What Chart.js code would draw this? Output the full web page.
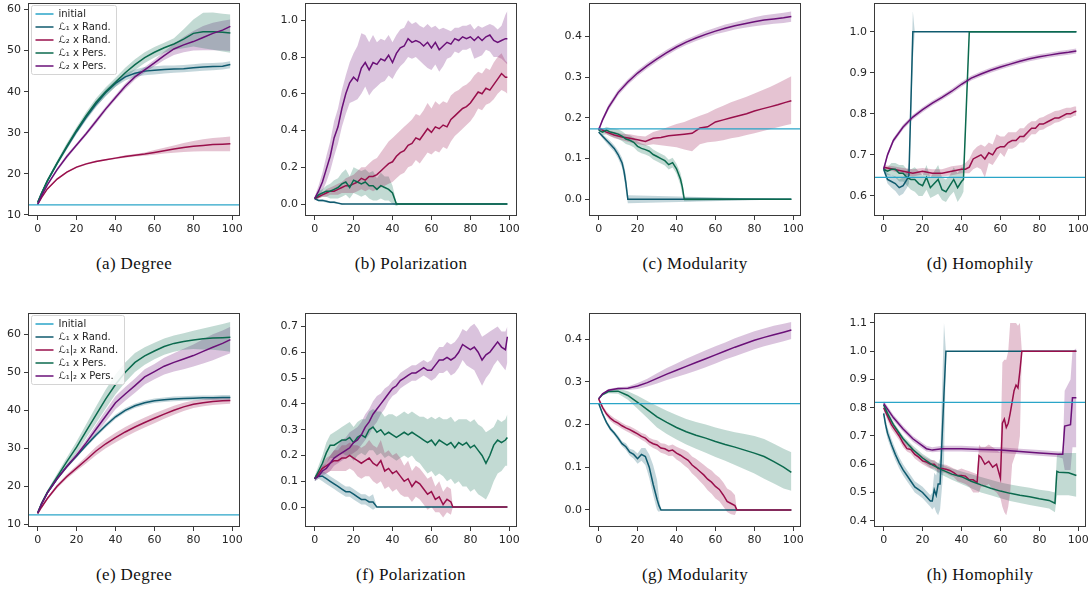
<!DOCTYPE html>
<html>
<head>
<meta charset="utf-8">
<script src="https://cdn.jsdelivr.net/npm/chart.js"></script>
<style>
  body { margin: 0; background: #fff; width: 1091px; height: 592px; position: relative; overflow: hidden; }
  canvas { position: absolute; }
  .cap { position: absolute; width: 240px; text-align: center; font-family: "Liberation Serif", serif; font-size: 17px; letter-spacing: 0.4px; line-height: 18px; color: #111; }
</style>
</head>
<body>
<script>
// ---- shared axis values ----
const xMin = -4.95, xMax = 103.95;
const xTicks = [0, 20, 40, 60, 80, 100];
const names1 = ["initial", "ℒ₁ x Rand.", "ℒ₂ x Rand.", "ℒ₁ x Pers.", "ℒ₂ x Pers."];
const names2 = ["Initial", "ℒ₁ x Rand.", "ℒ₁|₂ x Rand.", "ℒ₁ x Pers.", "ℒ₁|₂ x Pers."];
const colors = ["#2aa5c8", "#0f5a6e", "#990f4b", "#0b6a4e", "#6a1078"];

const xSmooth = [0, 2, 5, 10, 15, 20, 25, 30, 35, 40, 45, 50, 55, 60, 65, 70, 75, 80, 85, 90, 95, 99];
const xStep2 = [0, 2, 4, 6, 8, 10, 12, 14, 16, 18, 20, 22, 24, 26, 28, 30, 32, 34, 36, 38, 40, 42, 44, 46, 48, 50, 52, 54, 56, 58, 60, 62, 64, 66, 68, 70, 72, 74, 76, 78, 80, 82, 84, 86, 88, 90, 92, 94, 96, 98, 99];

// ---- (a) Degree ----
const aInitial = 12.4;
const aL1Rand = [13, 15.2, 18.2, 22.5, 26.5, 30.3, 33.8, 37, 39.8, 42, 43.6, 44.5, 45, 45.2, 45.4, 45.5, 45.6, 45.8, 46, 46.1, 46.2, 46.6];
const aL1RandLo = [12.8, 14.9, 17.8, 22, 26, 29.7, 33.1, 36.2, 39, 41.2, 42.7, 43.6, 44, 44.2, 44.4, 44.6, 44.7, 44.9, 45.1, 45.2, 45.4, 45.7];
const aL1RandHi = [13.2, 15.5, 18.6, 23, 27, 30.9, 34.5, 37.8, 40.6, 42.8, 44.5, 45.4, 46, 46.2, 46.4, 46.4, 46.5, 46.7, 46.9, 47, 47.1, 47.4];
const aL2Rand = [12.5, 14.2, 16.3, 18.7, 20.4, 21.6, 22.4, 23, 23.4, 23.8, 24.2, 24.5, 24.8, 25.2, 25.6, 26, 26.4, 26.7, 26.9, 27.1, 27.2, 27.3];
const aL2RandLo = [12.3, 14, 16.1, 18.5, 20.2, 21.4, 22.2, 22.8, 23.2, 23.6, 23.9, 24.2, 24.4, 24.6, 24.9, 25.1, 25.3, 25.4, 25.5, 25.5, 25.5, 25.5];
const aL2RandHi = [12.7, 14.4, 16.5, 18.9, 20.6, 21.8, 22.6, 23.2, 23.6, 24, 24.5, 24.8, 25.2, 25.8, 26.3, 26.9, 27.5, 28, 28.4, 28.7, 28.9, 29.1];
const aL1Pers = [13, 15.2, 18.3, 22.6, 26.7, 30.6, 34.2, 37.4, 40, 42.3, 44.6, 46.6, 48.3, 49.6, 50.7, 51.6, 52.8, 54.2, 54.6, 54.6, 54.5, 54.3];
const aL1PersLo = [12.8, 14.9, 17.8, 22, 25.9, 29.8, 33.3, 36.4, 38.9, 41.2, 43.4, 45.3, 47, 48.3, 49.5, 50.2, 50.6, 51, 50.6, 50.2, 49.8, 49.5];
const aL1PersHi = [13.2, 15.5, 18.8, 23.2, 27.5, 31.4, 35.1, 38.4, 41.1, 43.4, 45.8, 47.9, 49.6, 50.9, 51.9, 53, 55.2, 57.6, 59.2, 59.3, 59, 58.8];
const aL2Pers = [12.5, 14.6, 17.3, 21, 24.2, 27, 29.8, 32.8, 35.8, 38.6, 41.3, 43.6, 45.3, 47, 48.8, 50.4, 51.4, 52.2, 53.2, 54.2, 55, 55.9];
const aL2PersLo = [12.3, 14.3, 17, 20.6, 23.7, 26.6, 29.3, 32.2, 35.2, 38, 40.6, 42.9, 44.6, 46.2, 47.7, 48.9, 49.6, 50, 50.1, 50.1, 50, 49.9];
const aL2PersHi = [12.7, 14.9, 17.6, 21.4, 24.7, 27.4, 30.3, 33.4, 36.4, 39.2, 42, 44.3, 46, 47.8, 49.8, 51.6, 53.3, 54.8, 56, 56.8, 57.3, 57.6];

// ---- (b) Polarization ----
const bL1RandX = [0, 2, 4, 6, 8, 10, 12, 14, 16, 99];
const bL1Rand = [0.03, 0.02, 0.02, 0.015, 0.01, 0.01, 0.005, 0, 0, 0];
const bL1RandLo = [0.025, 0.015, 0.013, 0.009, 0.005, 0.004, 0, -0.003, 0, 0];
const bL1RandHi = [0.035, 0.025, 0.027, 0.021, 0.015, 0.016, 0.01, 0.003, 0, 0];
const bL2Rand = [0.03, 0.04, 0.05, 0.06, 0.07, 0.07, 0.08, 0.09, 0.10, 0.10, 0.11, 0.12, 0.14, 0.13, 0.15, 0.15, 0.16, 0.18, 0.20, 0.22, 0.23, 0.26, 0.28, 0.29, 0.32, 0.33, 0.36, 0.35, 0.38, 0.41, 0.39, 0.42, 0.41, 0.43, 0.42, 0.46, 0.48, 0.50, 0.52, 0.53, 0.55, 0.58, 0.61, 0.60, 0.63, 0.62, 0.65, 0.68, 0.71, 0.69, 0.69];
const bL2RandLo = [0.02, 0.03, 0.04, 0.04, 0.05, 0.05, 0.05, 0.06, 0.06, 0.06, 0.06, 0.07, 0.08, 0.07, 0.08, 0.07, 0.08, 0.09, 0.10, 0.11, 0.12, 0.14, 0.16, 0.17, 0.20, 0.21, 0.24, 0.22, 0.25, 0.28, 0.27, 0.29, 0.28, 0.31, 0.30, 0.34, 0.37, 0.39, 0.41, 0.43, 0.45, 0.48, 0.52, 0.51, 0.54, 0.55, 0.57, 0.60, 0.62, 0.61, 0.60];
const bL2RandHi = [0.04, 0.05, 0.06, 0.08, 0.09, 0.10, 0.11, 0.12, 0.14, 0.15, 0.16, 0.18, 0.20, 0.20, 0.22, 0.24, 0.25, 0.28, 0.31, 0.34, 0.36, 0.38, 0.40, 0.42, 0.44, 0.46, 0.49, 0.48, 0.51, 0.55, 0.52, 0.56, 0.54, 0.56, 0.55, 0.59, 0.61, 0.62, 0.64, 0.65, 0.67, 0.70, 0.72, 0.71, 0.74, 0.73, 0.77, 0.80, 0.82, 0.78, 0.77];
const bL1PersX = [0, 2, 4, 6, 8, 10, 12, 14, 16, 18, 20, 22, 24, 26, 28, 30, 32, 34, 36, 38, 40, 42, 44, 99];
const bL1Pers = [0.03, 0.05, 0.06, 0.07, 0.07, 0.08, 0.09, 0.11, 0.12, 0.09, 0.13, 0.12, 0.11, 0.12, 0.10, 0.10, 0.08, 0.10, 0.09, 0.08, 0.06, 0, 0, 0];
const bL1PersLo = [0.02, 0.03, 0.04, 0.04, 0.03, 0.03, 0.03, 0.04, 0.05, 0.03, 0.06, 0.05, 0.04, 0.05, 0.03, 0.02, 0.02, 0.03, 0.02, 0.02, 0, -0.01, 0, 0];
const bL1PersHi = [0.04, 0.07, 0.08, 0.10, 0.11, 0.13, 0.14, 0.17, 0.19, 0.15, 0.20, 0.19, 0.18, 0.19, 0.17, 0.18, 0.14, 0.17, 0.15, 0.15, 0.10, 0.01, 0, 0];
const bL2Pers = [0.03, 0.07, 0.12, 0.19, 0.26, 0.36, 0.42, 0.52, 0.60, 0.66, 0.69, 0.67, 0.74, 0.77, 0.73, 0.77, 0.76, 0.79, 0.78, 0.81, 0.77, 0.82, 0.85, 0.86, 0.90, 0.88, 0.89, 0.88, 0.86, 0.88, 0.85, 0.88, 0.84, 0.86, 0.88, 0.87, 0.90, 0.89, 0.91, 0.90, 0.91, 0.89, 0.91, 0.89, 0.91, 0.92, 0.89, 0.88, 0.89, 0.90, 0.90];
const bL2PersLo = [0.02, 0.04, 0.07, 0.12, 0.18, 0.26, 0.33, 0.42, 0.49, 0.55, 0.56, 0.57, 0.60, 0.64, 0.59, 0.62, 0.64, 0.66, 0.67, 0.70, 0.68, 0.72, 0.75, 0.77, 0.80, 0.79, 0.80, 0.78, 0.76, 0.74, 0.73, 0.76, 0.72, 0.75, 0.79, 0.80, 0.83, 0.82, 0.84, 0.84, 0.85, 0.79, 0.80, 0.81, 0.84, 0.83, 0.80, 0.80, 0.79, 0.77, 0.76];
const bL2PersHi = [0.04, 0.10, 0.17, 0.26, 0.34, 0.45, 0.52, 0.62, 0.70, 0.77, 0.82, 0.86, 0.93, 0.92, 0.88, 0.92, 0.88, 0.90, 0.89, 0.92, 0.88, 0.92, 0.95, 0.96, 1.00, 0.98, 0.99, 0.97, 0.96, 0.98, 0.96, 0.97, 0.95, 0.96, 0.95, 0.94, 0.96, 0.96, 0.97, 0.97, 0.98, 0.95, 0.97, 0.96, 0.97, 0.98, 0.97, 0.95, 0.97, 1.03, 1.05];

// ---- (c) Modularity ----
const cInitial = 0.173;
const cL1RandX = [0, 2, 4, 6, 8, 10, 12, 13, 14, 15, 99];
const cL1Rand = [0.165, 0.155, 0.145, 0.135, 0.125, 0.11, 0.09, 0.07, 0.04, 0, 0];
const cL1RandLo = [0.163, 0.15, 0.138, 0.127, 0.117, 0.1, 0.078, 0.055, 0.02, -0.01, 0];
const cL1RandHi = [0.167, 0.16, 0.152, 0.143, 0.133, 0.12, 0.102, 0.085, 0.06, 0.01, 0];
const cL2RandX = [0, 4, 8, 12, 16, 20, 24, 28, 32, 36, 40, 44, 48, 52, 56, 60, 64, 68, 72, 76, 80, 84, 88, 92, 96, 99];
const cL2Rand = [0.175, 0.165, 0.158, 0.153, 0.15, 0.146, 0.142, 0.15, 0.152, 0.156, 0.158, 0.16, 0.162, 0.175, 0.178, 0.19, 0.195, 0.2, 0.205, 0.21, 0.217, 0.222, 0.227, 0.232, 0.238, 0.242];
const cL2RandLo = [0.172, 0.16, 0.15, 0.145, 0.14, 0.136, 0.132, 0.135, 0.133, 0.13, 0.128, 0.122, 0.118, 0.135, 0.14, 0.142, 0.145, 0.15, 0.153, 0.158, 0.162, 0.167, 0.172, 0.177, 0.182, 0.185];
const cL2RandHi = [0.178, 0.17, 0.166, 0.161, 0.16, 0.156, 0.154, 0.165, 0.171, 0.178, 0.185, 0.19, 0.198, 0.205, 0.212, 0.222, 0.23, 0.238, 0.245, 0.252, 0.26, 0.268, 0.276, 0.285, 0.295, 0.302];
const cL1PersX = [0, 2, 4, 6, 8, 10, 12, 14, 16, 18, 20, 22, 24, 26, 28, 30, 32, 34, 36, 38, 40, 42, 43, 44, 99];
const cL1Pers = [0.17, 0.165, 0.17, 0.165, 0.163, 0.16, 0.155, 0.148, 0.145, 0.14, 0.13, 0.125, 0.122, 0.118, 0.11, 0.105, 0.1, 0.095, 0.085, 0.09, 0.075, 0.05, 0.03, 0, 0];
const cL1PersLo = [0.168, 0.158, 0.16, 0.155, 0.152, 0.148, 0.143, 0.136, 0.133, 0.128, 0.118, 0.113, 0.11, 0.106, 0.098, 0.093, 0.088, 0.083, 0.073, 0.078, 0.063, 0.035, 0.01, -0.005, 0];
const cL1PersHi = [0.172, 0.172, 0.178, 0.175, 0.174, 0.172, 0.167, 0.16, 0.157, 0.152, 0.142, 0.137, 0.134, 0.13, 0.122, 0.117, 0.112, 0.107, 0.097, 0.102, 0.087, 0.065, 0.045, 0.005, 0];
const cL2Pers = [0.17, 0.195, 0.225, 0.262, 0.288, 0.31, 0.328, 0.345, 0.36, 0.374, 0.386, 0.396, 0.405, 0.413, 0.42, 0.426, 0.431, 0.436, 0.44, 0.443, 0.446, 0.449];
const cL2PersLo = [0.168, 0.19, 0.218, 0.255, 0.281, 0.303, 0.321, 0.338, 0.353, 0.367, 0.379, 0.389, 0.397, 0.405, 0.411, 0.417, 0.421, 0.425, 0.428, 0.431, 0.433, 0.436];
const cL2PersHi = [0.172, 0.2, 0.232, 0.269, 0.295, 0.317, 0.335, 0.352, 0.367, 0.381, 0.393, 0.403, 0.413, 0.421, 0.429, 0.435, 0.441, 0.447, 0.452, 0.455, 0.458, 0.461];

// ---- (d) Homophily ----
const dInitial = 0.645;
const dL1RandX = [0, 2, 4, 6, 8, 10, 12, 13, 15, 16, 99];
const dL1Rand = [0.665, 0.64, 0.635, 0.63, 0.62, 0.625, 0.64, 0.65, 1, 1, 1];
const dL1RandLo = [0.658, 0.63, 0.62, 0.612, 0.6, 0.605, 0.62, 0.63, 0.93, 1, 1];
const dL1RandHi = [0.672, 0.655, 0.65, 0.648, 0.64, 0.645, 0.66, 0.68, 1.05, 1, 1];
const dL2RandX = [0, 5, 10, 15, 20, 25, 30, 35, 40, 42, 44, 46, 48, 50, 52, 54, 56, 58, 60, 62, 64, 66, 68, 70, 72, 74, 76, 78, 80, 82, 84, 86, 88, 90, 92, 94, 96, 98, 99];
const dL2Rand = [0.67, 0.665, 0.66, 0.655, 0.66, 0.655, 0.655, 0.66, 0.665, 0.665, 0.67, 0.69, 0.695, 0.70, 0.69, 0.705, 0.70, 0.715, 0.72, 0.72, 0.73, 0.735, 0.735, 0.745, 0.745, 0.755, 0.765, 0.765, 0.775, 0.775, 0.78, 0.785, 0.79, 0.79, 0.795, 0.80, 0.80, 0.805, 0.806];
const dL2RandLo = [0.665, 0.66, 0.652, 0.647, 0.652, 0.647, 0.647, 0.65, 0.655, 0.655, 0.655, 0.665, 0.67, 0.665, 0.645, 0.68, 0.675, 0.69, 0.705, 0.695, 0.715, 0.715, 0.72, 0.73, 0.73, 0.74, 0.75, 0.75, 0.76, 0.762, 0.768, 0.772, 0.778, 0.78, 0.785, 0.79, 0.79, 0.795, 0.795];
const dL2RandHi = [0.675, 0.672, 0.668, 0.665, 0.668, 0.665, 0.665, 0.672, 0.675, 0.68, 0.69, 0.71, 0.72, 0.725, 0.72, 0.73, 0.725, 0.75, 0.745, 0.745, 0.755, 0.755, 0.755, 0.765, 0.765, 0.775, 0.782, 0.782, 0.79, 0.792, 0.798, 0.802, 0.807, 0.808, 0.812, 0.815, 0.815, 0.818, 0.818];
const dL1PersX = [0, 2, 4, 6, 8, 10, 12, 14, 16, 18, 20, 22, 24, 26, 28, 30, 32, 34, 36, 38, 40, 41, 44, 99];
const dL1Pers = [0.665, 0.66, 0.665, 0.665, 0.655, 0.655, 0.645, 0.64, 0.64, 0.63, 0.625, 0.645, 0.62, 0.63, 0.64, 0.615, 0.61, 0.625, 0.64, 0.62, 0.635, 0.64, 1, 1];
const dL1PersLo = [0.66, 0.65, 0.65, 0.645, 0.635, 0.635, 0.625, 0.615, 0.61, 0.6, 0.6, 0.615, 0.595, 0.6, 0.605, 0.59, 0.585, 0.6, 0.61, 0.585, 0.6, 0.61, 1, 1];
const dL1PersHi = [0.67, 0.67, 0.68, 0.68, 0.675, 0.675, 0.665, 0.665, 0.67, 0.66, 0.65, 0.675, 0.645, 0.66, 0.675, 0.645, 0.64, 0.65, 0.67, 0.655, 0.67, 0.67, 1, 1];
const dL2Pers = [0.665, 0.70, 0.735, 0.768, 0.792, 0.81, 0.826, 0.84, 0.855, 0.872, 0.887, 0.897, 0.906, 0.914, 0.921, 0.928, 0.934, 0.939, 0.943, 0.947, 0.95, 0.953];
const dL2PersLo = [0.66, 0.694, 0.729, 0.762, 0.786, 0.804, 0.82, 0.834, 0.849, 0.866, 0.881, 0.891, 0.9, 0.908, 0.915, 0.922, 0.928, 0.933, 0.937, 0.941, 0.944, 0.947];
const dL2PersHi = [0.67, 0.706, 0.741, 0.774, 0.798, 0.816, 0.832, 0.846, 0.861, 0.878, 0.893, 0.903, 0.912, 0.92, 0.927, 0.934, 0.94, 0.945, 0.949, 0.953, 0.956, 0.959];

// ---- (e) Degree ----
const eInitial = 12.5;
const eL1Rand = [13, 15.3, 18.3, 22, 25.2, 28, 30.8, 33.5, 36, 38.3, 40, 41.2, 42, 42.5, 42.8, 43, 43.1, 43.2, 43.3, 43.3, 43.4, 43.4];
const eL1RandLo = [12.8, 14.9, 17.9, 21.6, 24.8, 27.6, 30.3, 33, 35.4, 37.7, 39.4, 40.6, 41.4, 41.9, 42.2, 42.4, 42.5, 42.6, 42.7, 42.7, 42.8, 42.8];
const eL1RandHi = [13.2, 15.7, 18.7, 22.4, 25.6, 28.4, 31.3, 34, 36.6, 38.9, 40.6, 41.8, 42.6, 43.1, 43.4, 43.6, 43.7, 43.8, 43.9, 43.9, 44, 44];
const eL2Rand = [12.8, 14.5, 16.8, 20, 22.6, 24.8, 27, 29.3, 31.2, 32.8, 34.3, 35.6, 36.8, 37.9, 39, 40, 40.9, 41.6, 42, 42.3, 42.5, 42.6];
const eL2RandLo = [12.6, 14.2, 16.4, 19.5, 22, 24.1, 26.1, 28.2, 30, 31.5, 33, 34.3, 35.5, 36.6, 37.8, 38.8, 39.8, 40.6, 41.1, 41.4, 41.6, 41.7];
const eL2RandHi = [13, 14.8, 17.2, 20.5, 23.2, 25.5, 27.9, 30.4, 32.4, 34.1, 35.6, 36.9, 38.1, 39.2, 40.2, 41.2, 42, 42.6, 42.9, 43.2, 43.4, 43.5];
const eL1Pers = [13, 15.5, 18.5, 22.5, 26.5, 30.3, 34.6, 38.8, 43, 46.8, 50, 52.6, 54.3, 55.6, 56.8, 57.6, 58.1, 58.5, 58.8, 59, 59.1, 59.2];
const eL1PersLo = [12.8, 15.2, 18, 21.7, 25.4, 28.8, 32.8, 36.6, 40.5, 44.2, 47.4, 50.1, 52, 53.4, 54.6, 55.4, 55.9, 56.1, 56, 55.9, 55.7, 55.4];
const eL1PersHi = [13.2, 15.8, 19, 23.3, 27.6, 31.8, 36.4, 41, 45.5, 49.4, 52.6, 55.1, 56.6, 57.8, 58.9, 59.7, 60.3, 60.9, 61.5, 62.1, 62.7, 63.2];
const eL2Pers = [13, 15.3, 18.3, 22, 25.2, 28.2, 31.5, 35, 38.5, 42, 44.3, 46.5, 48.8, 50.2, 51.6, 52.6, 53.5, 54.4, 55.5, 56.6, 57.6, 58.6];
const eL2PersLo = [12.8, 15, 18, 21.6, 24.7, 27.5, 30.6, 33.8, 37, 40.3, 42.5, 44.6, 46.8, 48.2, 49.4, 50.2, 50.8, 51.5, 52.3, 53.2, 54.2, 55];
const eL2PersHi = [13.2, 15.6, 18.6, 22.4, 25.7, 28.9, 32.4, 36.2, 40, 43.7, 46.1, 48.4, 50.8, 52.2, 53.8, 55, 56.2, 57.3, 58.7, 60, 61, 62];

// ---- (f) Polarization ----
const fL1RandX = [0, 2, 4, 6, 8, 10, 12, 14, 16, 18, 20, 22, 24, 26, 28, 30, 32, 99];
const fL1Rand = [0.11, 0.12, 0.12, 0.11, 0.10, 0.09, 0.08, 0.07, 0.06, 0.06, 0.05, 0.04, 0.03, 0.03, 0.02, 0.02, 0, 0];
const fL1RandLo = [0.10, 0.11, 0.10, 0.09, 0.08, 0.07, 0.06, 0.05, 0.04, 0.04, 0.03, 0.02, 0.01, 0.01, 0, -0.01, 0, 0];
const fL1RandHi = [0.12, 0.13, 0.14, 0.13, 0.12, 0.11, 0.10, 0.09, 0.08, 0.08, 0.07, 0.06, 0.05, 0.05, 0.04, 0.05, 0, 0];
const fL2RandX = [0, 2, 4, 6, 8, 10, 12, 14, 16, 18, 20, 22, 24, 26, 28, 30, 32, 34, 36, 38, 40, 42, 44, 46, 48, 50, 52, 54, 56, 58, 60, 62, 64, 66, 68, 70, 71, 72, 99];
const fL2Rand = [0.11, 0.13, 0.15, 0.16, 0.17, 0.18, 0.18, 0.19, 0.19, 0.20, 0.19, 0.18, 0.17, 0.18, 0.19, 0.17, 0.16, 0.18, 0.14, 0.15, 0.13, 0.14, 0.12, 0.10, 0.11, 0.08, 0.10, 0.09, 0.07, 0.05, 0.06, 0.03, 0.04, 0.01, 0.03, 0.02, 0, 0, 0];
const fL2RandLo = [0.10, 0.12, 0.13, 0.13, 0.14, 0.14, 0.14, 0.14, 0.14, 0.15, 0.14, 0.12, 0.11, 0.12, 0.12, 0.10, 0.09, 0.10, 0.07, 0.08, 0.06, 0.07, 0.05, 0.04, 0.04, 0.02, 0.04, 0.03, 0.01, -0.01, 0, -0.02, -0.02, -0.04, -0.02, -0.03, 0, 0, 0];
const fL2RandHi = [0.12, 0.14, 0.17, 0.19, 0.20, 0.22, 0.22, 0.24, 0.24, 0.25, 0.24, 0.24, 0.23, 0.24, 0.26, 0.24, 0.23, 0.26, 0.21, 0.22, 0.20, 0.21, 0.19, 0.16, 0.18, 0.14, 0.16, 0.15, 0.13, 0.11, 0.12, 0.08, 0.10, 0.06, 0.08, 0.07, 0, 0, 0];
const fL1Pers = [0.11, 0.14, 0.17, 0.21, 0.24, 0.24, 0.25, 0.26, 0.26, 0.27, 0.25, 0.27, 0.28, 0.27, 0.30, 0.31, 0.29, 0.30, 0.28, 0.29, 0.28, 0.27, 0.28, 0.29, 0.28, 0.29, 0.28, 0.27, 0.26, 0.25, 0.26, 0.24, 0.26, 0.25, 0.24, 0.25, 0.23, 0.25, 0.24, 0.25, 0.23, 0.24, 0.22, 0.20, 0.17, 0.20, 0.24, 0.26, 0.25, 0.26, 0.27];
const fL1PersLo = [0.10, 0.12, 0.14, 0.17, 0.19, 0.19, 0.20, 0.21, 0.20, 0.20, 0.18, 0.20, 0.21, 0.20, 0.22, 0.22, 0.20, 0.21, 0.19, 0.20, 0.19, 0.18, 0.19, 0.20, 0.19, 0.20, 0.18, 0.17, 0.15, 0.13, 0.14, 0.12, 0.13, 0.12, 0.10, 0.11, 0.09, 0.10, 0.08, 0.08, 0.06, 0.07, 0.05, 0.04, 0.03, 0.06, 0.10, 0.13, 0.14, 0.16, 0.16];
const fL1PersHi = [0.12, 0.16, 0.20, 0.25, 0.28, 0.29, 0.30, 0.31, 0.32, 0.33, 0.31, 0.33, 0.34, 0.34, 0.37, 0.38, 0.37, 0.37, 0.35, 0.36, 0.36, 0.35, 0.36, 0.37, 0.36, 0.37, 0.36, 0.35, 0.35, 0.34, 0.35, 0.34, 0.35, 0.34, 0.34, 0.35, 0.33, 0.34, 0.34, 0.34, 0.33, 0.34, 0.32, 0.31, 0.29, 0.30, 0.31, 0.34, 0.33, 0.34, 0.36];
const fL2Pers = [0.11, 0.12, 0.14, 0.15, 0.17, 0.19, 0.20, 0.21, 0.22, 0.23, 0.25, 0.26, 0.28, 0.31, 0.33, 0.36, 0.38, 0.40, 0.42, 0.44, 0.46, 0.47, 0.49, 0.50, 0.51, 0.52, 0.52, 0.53, 0.54, 0.53, 0.53, 0.55, 0.57, 0.57, 0.58, 0.57, 0.58, 0.60, 0.63, 0.62, 0.61, 0.62, 0.60, 0.57, 0.59, 0.60, 0.62, 0.64, 0.62, 0.61, 0.66];
const fL2PersLo = [0.10, 0.11, 0.12, 0.13, 0.14, 0.16, 0.17, 0.18, 0.19, 0.20, 0.21, 0.22, 0.24, 0.26, 0.28, 0.31, 0.33, 0.36, 0.38, 0.41, 0.43, 0.44, 0.46, 0.47, 0.48, 0.49, 0.49, 0.50, 0.51, 0.50, 0.49, 0.50, 0.52, 0.52, 0.53, 0.51, 0.52, 0.54, 0.57, 0.55, 0.54, 0.53, 0.50, 0.47, 0.50, 0.52, 0.55, 0.57, 0.55, 0.53, 0.56];
const fL2PersHi = [0.12, 0.13, 0.16, 0.17, 0.20, 0.22, 0.24, 0.26, 0.27, 0.29, 0.30, 0.31, 0.33, 0.36, 0.38, 0.41, 0.43, 0.44, 0.46, 0.47, 0.49, 0.50, 0.52, 0.53, 0.54, 0.55, 0.55, 0.56, 0.57, 0.56, 0.57, 0.60, 0.62, 0.62, 0.64, 0.63, 0.64, 0.66, 0.69, 0.68, 0.70, 0.71, 0.69, 0.66, 0.67, 0.68, 0.69, 0.70, 0.68, 0.68, 0.70];

// ---- (g) Modularity ----
const gInitial = 0.249;
const gL1RandX = [0, 2, 4, 6, 8, 10, 12, 14, 16, 18, 20, 22, 24, 26, 28, 30, 31, 32, 99];
const gL1Rand = [0.25, 0.225, 0.205, 0.19, 0.18, 0.168, 0.155, 0.148, 0.135, 0.13, 0.12, 0.13, 0.125, 0.10, 0.06, 0.025, 0.01, 0, 0];
const gL1RandLo = [0.248, 0.22, 0.2, 0.185, 0.175, 0.162, 0.149, 0.14, 0.127, 0.12, 0.108, 0.115, 0.105, 0.075, 0.035, 0, -0.005, 0, 0];
const gL1RandHi = [0.252, 0.23, 0.21, 0.195, 0.185, 0.174, 0.161, 0.156, 0.143, 0.14, 0.132, 0.145, 0.145, 0.13, 0.105, 0.07, 0.03, 0, 0];
const gL2RandX = [0, 2, 4, 6, 8, 10, 12, 14, 16, 18, 20, 22, 24, 26, 28, 30, 32, 34, 36, 38, 40, 42, 44, 46, 48, 50, 52, 54, 56, 58, 60, 62, 64, 66, 68, 70, 71, 72, 99];
const gL2Rand = [0.26, 0.24, 0.225, 0.215, 0.208, 0.203, 0.197, 0.192, 0.188, 0.183, 0.178, 0.172, 0.168, 0.16, 0.155, 0.152, 0.145, 0.143, 0.138, 0.14, 0.133, 0.128, 0.122, 0.116, 0.105, 0.098, 0.09, 0.082, 0.072, 0.065, 0.055, 0.048, 0.035, 0.02, 0.015, 0.01, 0, 0, 0];
const gL2RandLo = [0.258, 0.235, 0.219, 0.208, 0.201, 0.196, 0.19, 0.185, 0.18, 0.175, 0.17, 0.164, 0.159, 0.151, 0.145, 0.141, 0.134, 0.131, 0.126, 0.127, 0.118, 0.112, 0.104, 0.097, 0.085, 0.077, 0.067, 0.058, 0.046, 0.038, 0.027, 0.02, 0.008, -0.005, -0.01, -0.012, 0, 0, 0];
const gL2RandHi = [0.262, 0.245, 0.231, 0.222, 0.215, 0.21, 0.204, 0.199, 0.196, 0.191, 0.186, 0.18, 0.177, 0.169, 0.165, 0.163, 0.156, 0.155, 0.15, 0.153, 0.148, 0.144, 0.14, 0.135, 0.125, 0.12, 0.113, 0.106, 0.098, 0.092, 0.083, 0.076, 0.065, 0.05, 0.045, 0.035, 0, 0, 0];
const gL1Pers = [0.26, 0.27, 0.277, 0.278, 0.268, 0.252, 0.235, 0.218, 0.205, 0.193, 0.183, 0.175, 0.168, 0.16, 0.153, 0.147, 0.14, 0.133, 0.125, 0.113, 0.1, 0.088];
const gL1PersLo = [0.258, 0.267, 0.273, 0.272, 0.258, 0.237, 0.215, 0.193, 0.178, 0.165, 0.153, 0.143, 0.134, 0.124, 0.115, 0.105, 0.095, 0.085, 0.073, 0.062, 0.05, 0.045];
const gL1PersHi = [0.262, 0.273, 0.281, 0.284, 0.278, 0.267, 0.255, 0.243, 0.232, 0.222, 0.213, 0.206, 0.2, 0.193, 0.187, 0.182, 0.178, 0.173, 0.166, 0.155, 0.143, 0.135];
const gL2Pers = [0.26, 0.272, 0.28, 0.284, 0.285, 0.29, 0.298, 0.308, 0.318, 0.327, 0.336, 0.345, 0.354, 0.363, 0.372, 0.381, 0.389, 0.397, 0.404, 0.41, 0.416, 0.421];
const gL2PersLo = [0.258, 0.27, 0.277, 0.281, 0.281, 0.283, 0.289, 0.296, 0.304, 0.311, 0.318, 0.326, 0.334, 0.343, 0.352, 0.36, 0.368, 0.376, 0.383, 0.389, 0.395, 0.4];
const gL2PersHi = [0.262, 0.274, 0.283, 0.287, 0.289, 0.297, 0.307, 0.32, 0.332, 0.343, 0.354, 0.364, 0.374, 0.383, 0.392, 0.402, 0.41, 0.418, 0.425, 0.431, 0.436, 0.44];

// ---- (h) Homophily ----
const hInitial = 0.819;
const hL1RandX = [0, 1, 2, 4, 6, 8, 10, 12, 14, 16, 18, 20, 22, 24, 25, 26, 27, 28, 29, 31, 32, 99];
const hL1Rand = [0.78, 0.74, 0.71, 0.67, 0.635, 0.605, 0.58, 0.56, 0.54, 0.52, 0.51, 0.5, 0.485, 0.47, 0.47, 0.51, 0.49, 0.53, 0.53, 0.85, 1, 1];
const hL1RandLo = [0.77, 0.72, 0.69, 0.65, 0.615, 0.585, 0.56, 0.54, 0.52, 0.5, 0.49, 0.48, 0.465, 0.45, 0.44, 0.45, 0.43, 0.42, 0.44, 0.6, 1, 1];
const hL1RandHi = [0.79, 0.76, 0.73, 0.69, 0.655, 0.625, 0.6, 0.58, 0.56, 0.54, 0.53, 0.52, 0.505, 0.49, 0.5, 0.57, 0.56, 0.6, 0.62, 1.1, 1, 1];
const hL2RandX = [0, 2, 4, 6, 8, 10, 12, 14, 16, 18, 20, 22, 24, 26, 28, 30, 32, 34, 36, 38, 40, 42, 44, 46, 48, 49, 50, 52, 54, 56, 58, 60, 61, 62, 63, 64, 65, 66, 67, 68, 69, 70, 71, 99];
const hL2Rand = [0.80, 0.77, 0.74, 0.72, 0.70, 0.675, 0.655, 0.652, 0.635, 0.625, 0.612, 0.608, 0.6, 0.6, 0.585, 0.585, 0.582, 0.578, 0.57, 0.56, 0.56, 0.558, 0.545, 0.545, 0.535, 0.63, 0.625, 0.6, 0.61, 0.59, 0.6, 0.55, 0.745, 0.76, 0.73, 0.745, 0.78, 0.82, 0.86, 0.88, 0.87, 0.93, 1, 1];
const hL2RandLo = [0.79, 0.755, 0.725, 0.705, 0.685, 0.66, 0.645, 0.638, 0.62, 0.61, 0.6, 0.592, 0.585, 0.585, 0.572, 0.572, 0.568, 0.56, 0.555, 0.54, 0.535, 0.53, 0.52, 0.5, 0.5, 0.5, 0.52, 0.52, 0.53, 0.51, 0.5, 0.48, 0.45, 0.43, 0.42, 0.45, 0.5, 0.6, 0.62, 0.64, 0.65, 0.7, 1, 1];
const hL2RandHi = [0.81, 0.785, 0.755, 0.735, 0.715, 0.69, 0.672, 0.668, 0.65, 0.64, 0.63, 0.622, 0.615, 0.615, 0.602, 0.6, 0.598, 0.592, 0.585, 0.58, 0.585, 0.58, 0.575, 0.57, 0.565, 0.67, 0.66, 0.66, 0.67, 0.66, 0.65, 0.64, 0.96, 0.97, 0.97, 1, 1.1, 1.1, 1.1, 1.1, 1.09, 1.1, 1, 1];
const hL1PersX = [0, 2, 5, 10, 15, 20, 25, 30, 35, 40, 45, 50, 55, 60, 65, 70, 75, 80, 85, 88, 89, 90, 95, 99];
const hL1Pers = [0.81, 0.78, 0.74, 0.69, 0.652, 0.622, 0.598, 0.58, 0.565, 0.556, 0.54, 0.527, 0.515, 0.505, 0.497, 0.49, 0.485, 0.478, 0.472, 0.462, 0.575, 0.572, 0.57, 0.56];
const hL1PersLo = [0.80, 0.77, 0.73, 0.68, 0.64, 0.608, 0.582, 0.562, 0.545, 0.53, 0.515, 0.5, 0.49, 0.48, 0.47, 0.463, 0.456, 0.45, 0.443, 0.43, 0.49, 0.49, 0.49, 0.485];
const hL1PersHi = [0.82, 0.79, 0.75, 0.70, 0.665, 0.636, 0.614, 0.598, 0.585, 0.574, 0.565, 0.555, 0.545, 0.535, 0.528, 0.522, 0.517, 0.51, 0.505, 0.5, 0.63, 0.64, 0.64, 0.64];
const hL2PersX = [0, 2, 5, 10, 15, 20, 22, 25, 30, 40, 50, 60, 70, 80, 90, 92, 93, 96, 97, 99];
const hL2Pers = [0.815, 0.795, 0.765, 0.725, 0.69, 0.665, 0.655, 0.65, 0.655, 0.655, 0.652, 0.65, 0.645, 0.64, 0.635, 0.635, 0.735, 0.74, 0.835, 0.835];
const hL2PersLo = [0.805, 0.785, 0.755, 0.715, 0.68, 0.655, 0.645, 0.642, 0.645, 0.645, 0.642, 0.64, 0.635, 0.63, 0.625, 0.62, 0.58, 0.58, 0.66, 0.66];
const hL2PersHi = [0.825, 0.805, 0.775, 0.735, 0.7, 0.675, 0.665, 0.66, 0.665, 0.665, 0.662, 0.66, 0.655, 0.65, 0.645, 0.645, 0.86, 0.9, 1.0, 1.01];

// ---- panel table: [x, mean, lo, hi] per series, order L1 Rand, L2 Rand, L1 Pers, L2 Pers ----
const panels = [
  { cap: "(a) Degree", box: [28, 3, 240, 216], yMin: 9.7, yMax: 61.6, yTicks: [10, 20, 30, 40, 50, 60], dec: 0, initial: aInitial, legend: names1,
    series: [[xSmooth, aL1Rand, aL1RandLo, aL1RandHi], [xSmooth, aL2Rand, aL2RandLo, aL2RandHi], [xSmooth, aL1Pers, aL1PersLo, aL1PersHi], [xSmooth, aL2Pers, aL2PersLo, aL2PersHi]] },
  { cap: "(b) Polarization", box: [305, 3, 517, 216], yMin: -0.065, yMax: 1.094, yTicks: [0, 0.2, 0.4, 0.6, 0.8, 1.0], dec: 1, initial: null,
    series: [[bL1RandX, bL1Rand, bL1RandLo, bL1RandHi], [xStep2, bL2Rand, bL2RandLo, bL2RandHi], [bL1PersX, bL1Pers, bL1PersLo, bL1PersHi], [xStep2, bL2Pers, bL2PersLo, bL2PersHi]] },
  { cap: "(c) Modularity", box: [589, 3, 801, 216], yMin: -0.041, yMax: 0.482, yTicks: [0, 0.1, 0.2, 0.3, 0.4], dec: 1, initial: cInitial,
    series: [[cL1RandX, cL1Rand, cL1RandLo, cL1RandHi], [cL2RandX, cL2Rand, cL2RandLo, cL2RandHi], [cL1PersX, cL1Pers, cL1PersLo, cL1PersHi], [xSmooth, cL2Pers, cL2PersLo, cL2PersHi]] },
  { cap: "(d) Homophily", box: [874, 3, 1086, 216], yMin: 0.551, yMax: 1.07, yTicks: [0.6, 0.7, 0.8, 0.9, 1.0], dec: 1, initial: dInitial,
    series: [[dL1RandX, dL1Rand, dL1RandLo, dL1RandHi], [dL2RandX, dL2Rand, dL2RandLo, dL2RandHi], [dL1PersX, dL1Pers, dL1PersLo, dL1PersHi], [xSmooth, dL2Pers, dL2PersLo, dL2PersHi]] },
  { cap: "(e) Degree", box: [28, 313, 240, 527], yMin: 9.3, yMax: 65.6, yTicks: [10, 20, 30, 40, 50, 60], dec: 0, initial: eInitial, legend: names2,
    series: [[xSmooth, eL1Rand, eL1RandLo, eL1RandHi], [xSmooth, eL2Rand, eL2RandLo, eL2RandHi], [xSmooth, eL1Pers, eL1PersLo, eL1PersHi], [xSmooth, eL2Pers, eL2PersLo, eL2PersHi]] },
  { cap: "(f) Polarization", box: [305, 313, 517, 527], yMin: -0.077, yMax: 0.752, yTicks: [0, 0.1, 0.2, 0.3, 0.4, 0.5, 0.6, 0.7], dec: 1, initial: null,
    series: [[fL1RandX, fL1Rand, fL1RandLo, fL1RandHi], [fL2RandX, fL2Rand, fL2RandLo, fL2RandHi], [xStep2, fL1Pers, fL1PersLo, fL1PersHi], [xStep2, fL2Pers, fL2PersLo, fL2PersHi]] },
  { cap: "(g) Modularity", box: [589, 313, 801, 527], yMin: -0.04, yMax: 0.461, yTicks: [0, 0.1, 0.2, 0.3, 0.4], dec: 1, initial: gInitial,
    series: [[gL1RandX, gL1Rand, gL1RandLo, gL1RandHi], [gL2RandX, gL2Rand, gL2RandLo, gL2RandHi], [xSmooth, gL1Pers, gL1PersLo, gL1PersHi], [xSmooth, gL2Pers, gL2PersLo, gL2PersHi]] },
  { cap: "(h) Homophily", box: [874, 313, 1086, 527], yMin: 0.378, yMax: 1.135, yTicks: [0.4, 0.5, 0.6, 0.7, 0.8, 0.9, 1.0, 1.1], dec: 1, initial: hInitial,
    series: [[hL1RandX, hL1Rand, hL1RandLo, hL1RandHi], [hL2RandX, hL2Rand, hL2RandLo, hL2RandHi], [hL1PersX, hL1Pers, hL1PersLo, hL1PersHi], [hL2PersX, hL2Pers, hL2PersLo, hL2PersHi]] }
];

function pts(xs, ys) {
  return xs.map((x, i) => ({ x: x, y: ys[i] }));
}

function rgba(hex, a) {
  const n = parseInt(hex.slice(1), 16);
  return `rgba(${(n >> 16) & 255},${(n >> 8) & 255},${n & 255},${a})`;
}

// frame on all four sides + matplotlib-like legend box
const framePlugin = {
  id: "boxFrame",
  afterDatasetsDraw(chart, args, opts) {
    const { ctx, chartArea: ca } = chart;
    ctx.save();
    ctx.strokeStyle = "#3a3a3a";
    ctx.lineWidth = 1;
    ctx.strokeRect(ca.left + 0.5, ca.top + 0.5, ca.right - ca.left - 1, ca.bottom - ca.top - 1);
    if (opts.labels) {
      const labels = opts.labels;
      ctx.font = '10px "DejaVu Sans"';
      let tw = 0;
      labels.forEach((t) => { tw = Math.max(tw, ctx.measureText(t).width); });
      const x0 = Math.round(ca.left) + 3.5, y0 = Math.round(ca.top) + 2.5;
      const rowH = 13, w = Math.round(tw + 33), h = labels.length * rowH + 4;
      ctx.fillStyle = "rgba(255,255,255,0.85)";
      ctx.strokeStyle = "#d4d4d4";
      ctx.beginPath();
      ctx.roundRect(x0, y0, w, h, 2);
      ctx.fill();
      ctx.stroke();
      ctx.textBaseline = "middle";
      labels.forEach((t, i) => {
        const y = y0 + 8.5 + i * rowH;
        ctx.strokeStyle = opts.colors[i];
        ctx.lineWidth = 1.5;
        ctx.beginPath();
        ctx.moveTo(x0 + 4, y);
        ctx.lineTo(x0 + 22, y);
        ctx.stroke();
        ctx.fillStyle = "#222";
        ctx.fillText(t, x0 + 27, y);
      });
    }
    ctx.restore();
  }
};

const padL = 40, padT = 10, padR = 12, padB = 22;

panels.forEach((p, n) => {
  const [l, t, r, b] = p.box;
  const cv = document.createElement("canvas");
  cv.width = r - l + padL + padR;
  cv.height = b - t + padT + padB;
  cv.style.left = (l - padL) + "px";
  cv.style.top = (t - padT) + "px";
  document.body.appendChild(cv);

  const cap = document.createElement("div");
  cap.className = "cap";
  cap.textContent = p.cap;
  cap.style.left = ((l + r) / 2 - 120) + "px";
  cap.style.top = (n < 4 ? 255 : 566) + "px";
  document.body.appendChild(cap);

  const datasets = [];
  p.series.forEach((s, k) => {
    datasets.push({ data: pts(s[0], s[2]), borderColor: "transparent", borderWidth: 0, pointRadius: 0, fill: false, order: 30 });
    datasets.push({ data: pts(s[0], s[3]), borderColor: "transparent", borderWidth: 0, pointRadius: 0, fill: "-1", backgroundColor: rgba(colors[k + 1], 0.25), order: 30 });
  });
  p.series.forEach((s, k) => {
    datasets.push({ data: pts(s[0], s[1]), borderColor: colors[k + 1], borderWidth: 1.5, pointRadius: 0, fill: false, order: 20 - k });
  });
  if (p.initial !== null) {
    datasets.push({ data: [{ x: xMin, y: p.initial }, { x: xMax, y: p.initial }], borderColor: colors[0], borderWidth: 1.3, pointRadius: 0, fill: false, order: 0 });
  }

  const tickFont = { family: "DejaVu Sans", size: 11 };
  const grid = { display: true, drawOnChartArea: false, drawTicks: true, tickLength: 4, color: "#3a3a3a", lineWidth: 1 };

  new Chart(cv, {
    type: "line",
    data: { datasets },
    plugins: [framePlugin],
    options: {
      responsive: false,
      animation: false,
      devicePixelRatio: 1,
      layout: { padding: { left: 0, top: padT, right: padR, bottom: 0 } },
      elements: { line: { tension: 0 } },
      plugins: {
        legend: { display: false },
        tooltip: { enabled: false },
        boxFrame: { labels: p.legend || null, colors: colors }
      },
      scales: {
        x: {
          type: "linear", min: xMin, max: xMax,
          afterBuildTicks: (s) => { s.ticks = xTicks.map((v) => ({ value: v })); },
          afterFit: (s) => { s.height = padB; },
          grid: grid, border: { display: false },
          ticks: { color: "#262626", font: tickFont, padding: 3, maxRotation: 0, autoSkip: false, callback: (v) => String(v) }
        },
        y: {
          type: "linear", min: p.yMin, max: p.yMax,
          afterBuildTicks: (s) => { s.ticks = p.yTicks.map((v) => ({ value: v })); },
          afterFit: (s) => { s.width = padL; },
          grid: grid, border: { display: false },
          ticks: { color: "#262626", font: tickFont, padding: 3, autoSkip: false, callback: (v) => Number(v).toFixed(p.dec) }
        }
      }
    }
  });
});
</script>
</body>
</html>
